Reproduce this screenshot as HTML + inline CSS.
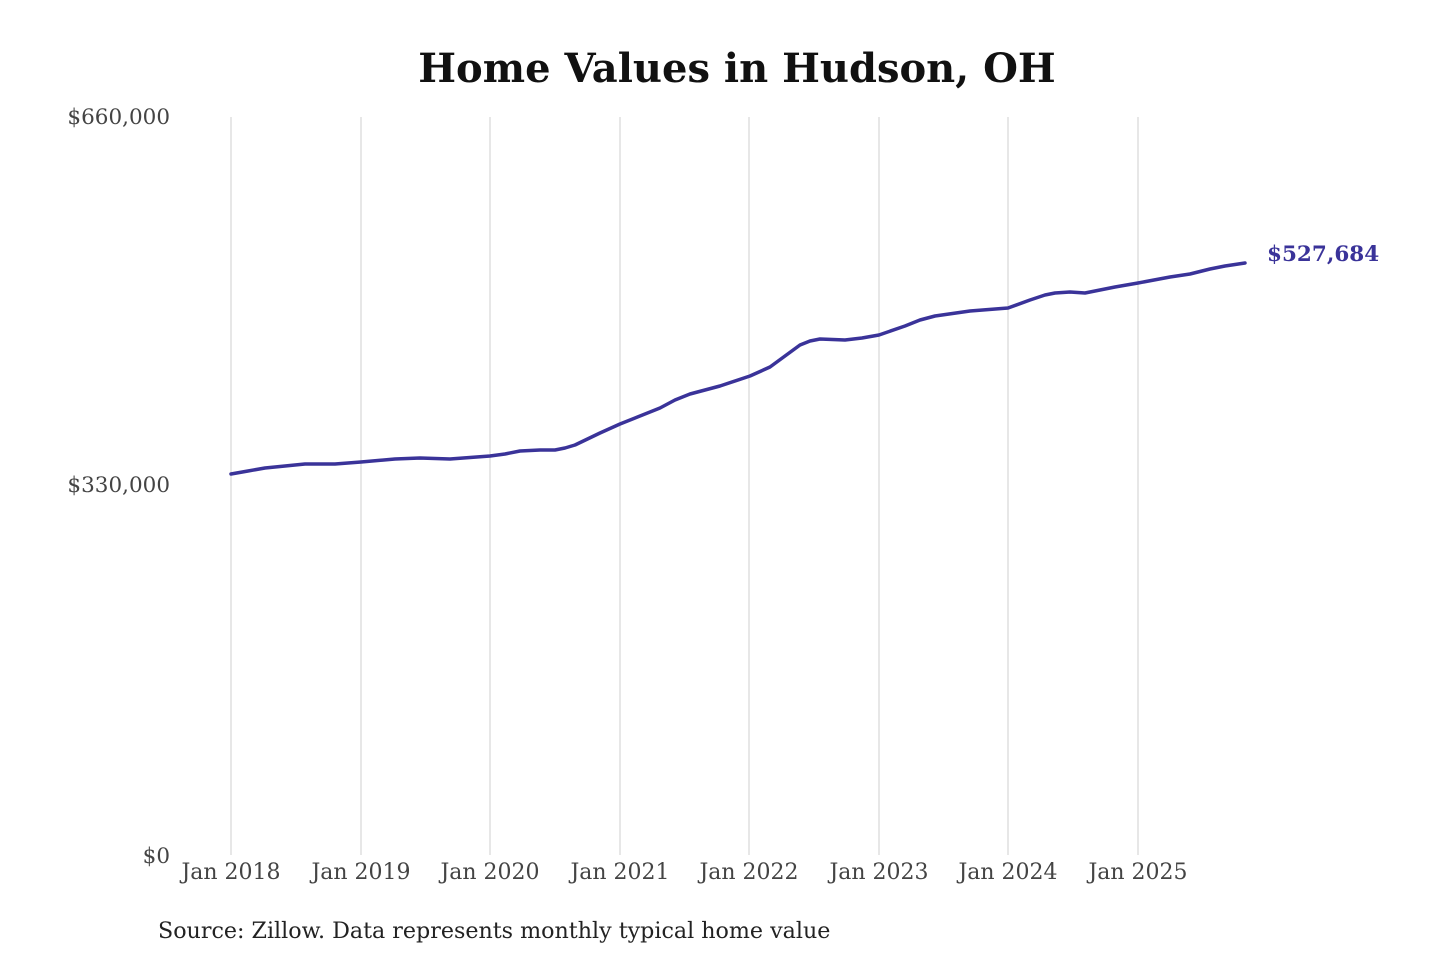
<!DOCTYPE html>
<html><head><meta charset="utf-8"><style>
html,body{margin:0;padding:0;background:#fff;width:1440px;height:960px;overflow:hidden}
svg{display:block}
text{font-family:"DejaVu Serif","Liberation Serif",serif}
</style></head><body>
<svg width="1440" height="960" viewBox="0 0 1440 960">
<text x="737" y="82" text-anchor="middle" font-size="40" font-weight="bold" fill="#111">Home Values in Hudson, OH</text>
<g stroke="#cfcfcf" stroke-width="1">
<line x1="231" y1="117" x2="231" y2="855"/>
<line x1="361" y1="117" x2="361" y2="855"/>
<line x1="490" y1="117" x2="490" y2="855"/>
<line x1="620" y1="117" x2="620" y2="855"/>
<line x1="749" y1="117" x2="749" y2="855"/>
<line x1="879" y1="117" x2="879" y2="855"/>
<line x1="1008" y1="117" x2="1008" y2="855"/>
<line x1="1138" y1="117" x2="1138" y2="855"/>
</g>
<g font-size="21.5" fill="#444" text-anchor="end">
<text x="170" y="124">$660,000</text>
<text x="170" y="492">$330,000</text>
<text x="170" y="863">$0</text>
</g>
<g font-size="22" fill="#444" text-anchor="middle">
<text x="231" y="879">Jan 2018</text>
<text x="361" y="879">Jan 2019</text>
<text x="490" y="879">Jan 2020</text>
<text x="620" y="879">Jan 2021</text>
<text x="749" y="879">Jan 2022</text>
<text x="879" y="879">Jan 2023</text>
<text x="1008" y="879">Jan 2024</text>
<text x="1138" y="879">Jan 2025</text>
</g>
<polyline fill="none" stroke="#3a3399" stroke-width="3.5" stroke-linejoin="round" stroke-linecap="round"
points="231,474 248,471 265,468 285,466 305,464 320,464 335,464 361,462 395,459 420,458 450,459 490,456 505,454 520,451 540,450 555,450 565,448 575,445 600,433 620,424 660,408 675,400 690,394 720,386 750,376 770,367 785,356 800,345 810,341 820,339 845,340 862,338 879,335 905,326 920,320 935,316 970,311 1008,308 1030,300 1045,295 1055,293 1070,292 1085,293 1115,287 1138,283 1170,277 1190,274 1210,269 1225,266 1245,263"/>
<text x="1267" y="261" font-size="21.5" font-weight="bold" fill="#3a3399">$527,684</text>
<text x="158" y="938" font-size="22.2" fill="#222">Source: Zillow. Data represents monthly typical home value</text>
</svg>
</body></html>
